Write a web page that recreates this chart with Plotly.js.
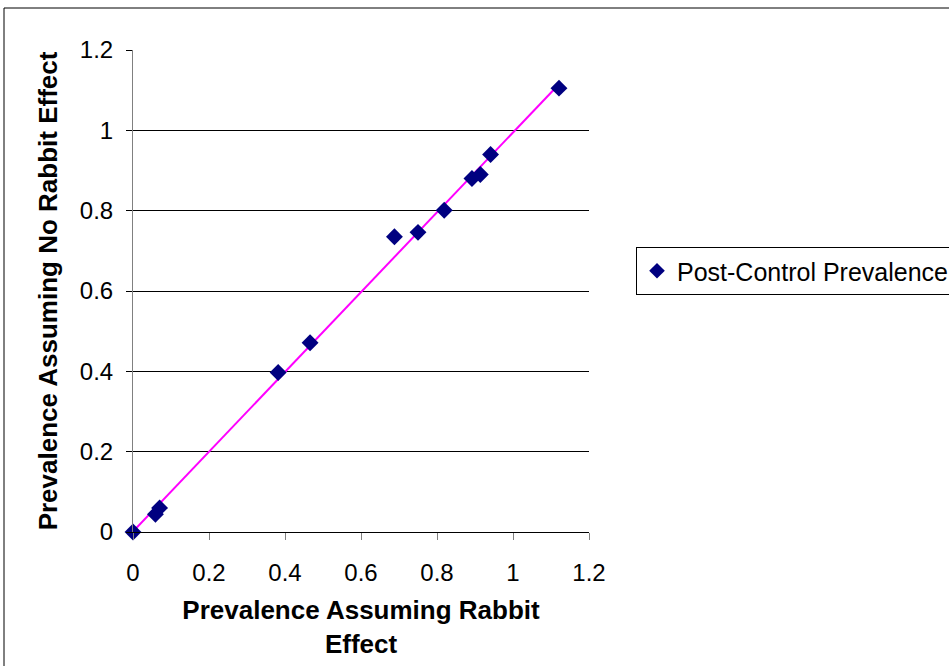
<!DOCTYPE html>
<html>
<head>
<meta charset="utf-8">
<script src="https://cdn.plot.ly/plotly-3.0.1.min.js"></script>
<style>html,body{margin:0;padding:0;background:#fff;}#chart{width:949px;height:666px;}</style>
</head>
<body>
<div id="chart"></div>
<script>
// Data
var rabbitEffect   = [0, 0.059, 0.070, 0.382, 0.466, 0.688, 0.750, 0.819, 0.892, 0.914, 0.941, 1.121];
var noRabbitEffect = [0, 0.044, 0.060, 0.397, 0.471, 0.735, 0.746, 0.801, 0.880, 0.890, 0.940, 1.105];
var seriesName = "Post-Control Prevalence";
var tickVals = [0, 0.2, 0.4, 0.6, 0.8, 1, 1.2];
var tickText = ["0", "0.2", "0.4", "0.6", "0.8", "1", "1.2"];

// Linear trendline (least squares)
var n = rabbitEffect.length, sx = 0, sy = 0, sxx = 0, sxy = 0;
for (var i = 0; i < n; i++) {
  sx += rabbitEffect[i]; sy += noRabbitEffect[i];
  sxx += rabbitEffect[i] * rabbitEffect[i]; sxy += rabbitEffect[i] * noRabbitEffect[i];
}
var slope = (n * sxy - sx * sy) / (n * sxx - sx * sx);
var intercept = (sy - slope * sx) / n;
var xmin = Math.min.apply(null, rabbitEffect), xmax = Math.max.apply(null, rabbitEffect);
var trendX = [xmin, xmax];
var trendY = trendX.map(function (v) { return intercept + slope * v; });

var FONT = "Liberation Sans, Arial, sans-serif";

var traces = [
  {
    x: trendX, y: trendY, type: "scatter", mode: "lines",
    line: { color: "#FF00FF", width: 2 },
    showlegend: false, hoverinfo: "skip"
  },
  {
    x: rabbitEffect, y: noRabbitEffect, type: "scatter", mode: "markers",
    name: seriesName,
    marker: { symbol: "diamond", size: 13, color: "#000080", line: { width: 0 } },
    cliponaxis: false
  }
];

var pl = 133, pr = 589, pt = 50, pb = 532;
var W = 949, H = 666;
function px2x(p) { return (p - pl) / (pr - pl); }
function py2y(p) { return (pb - p) / (pb - pt); }

var layout = {
  width: W, height: H,
  margin: { l: pl, r: W - pr, t: pt, b: H - pb, pad: 0, autoexpand: false },
  paper_bgcolor: "#fff", plot_bgcolor: "#fff",
  font: { family: FONT, color: "#000", size: 24 },
  showlegend: true,
  xaxis: {
    range: [0, 1.2], tickvals: tickVals, ticktext: tickText,
    showgrid: false, zeroline: false,
    showline: true, linecolor: "#000", linewidth: 1,
    ticks: "outside", ticklen: 7, tickcolor: "#808080",
    ticklabelstandoff: 12,
    tickfont: { family: FONT, size: 24, color: "#000" },
    title: { text: "Prevalence Assuming Rabbit<br>Effect", font: { family: FONT, size: 26, color: "#000", weight: "bold" }, standoff: 16 },
    automargin: false, fixedrange: true
  },
  yaxis: {
    range: [0, 1.2], tickvals: tickVals, ticktext: tickText,
    showgrid: true, gridcolor: "#000", gridwidth: 1, zeroline: false,
    showline: true, linecolor: "#808080", linewidth: 1,
    ticks: "outside", ticklen: 6, tickcolor: "#000",
    ticklabelstandoff: 8,
    tickfont: { family: FONT, size: 24, color: "#000" },
    title: { text: "Prevalence Assuming No Rabbit Effect", font: { family: FONT, size: 26, color: "#000", weight: "bold" }, standoff: 14 },
    automargin: false, fixedrange: true
  },
  legend: {
    x: px2x(636), y: py2y(247), xanchor: "left", yanchor: "top",
    bordercolor: "#000", borderwidth: 1, bgcolor: "#fff",
    font: { family: FONT, size: 25, color: "#000" },
    itemsizing: "constant"
  },
  shapes: [
    {
      type: "rect", xref: "paper", yref: "paper",
      x0: px2x(4), x1: px2x(1000), y0: py2y(720), y1: py2y(8),
      line: { color: "#000", width: 1 }, fillcolor: "rgba(0,0,0,0)", layer: "below"
    }
  ]
};

Plotly.newPlot("chart", traces, layout, { staticPlot: true, displayModeBar: false });
</script>
</body>
</html>
